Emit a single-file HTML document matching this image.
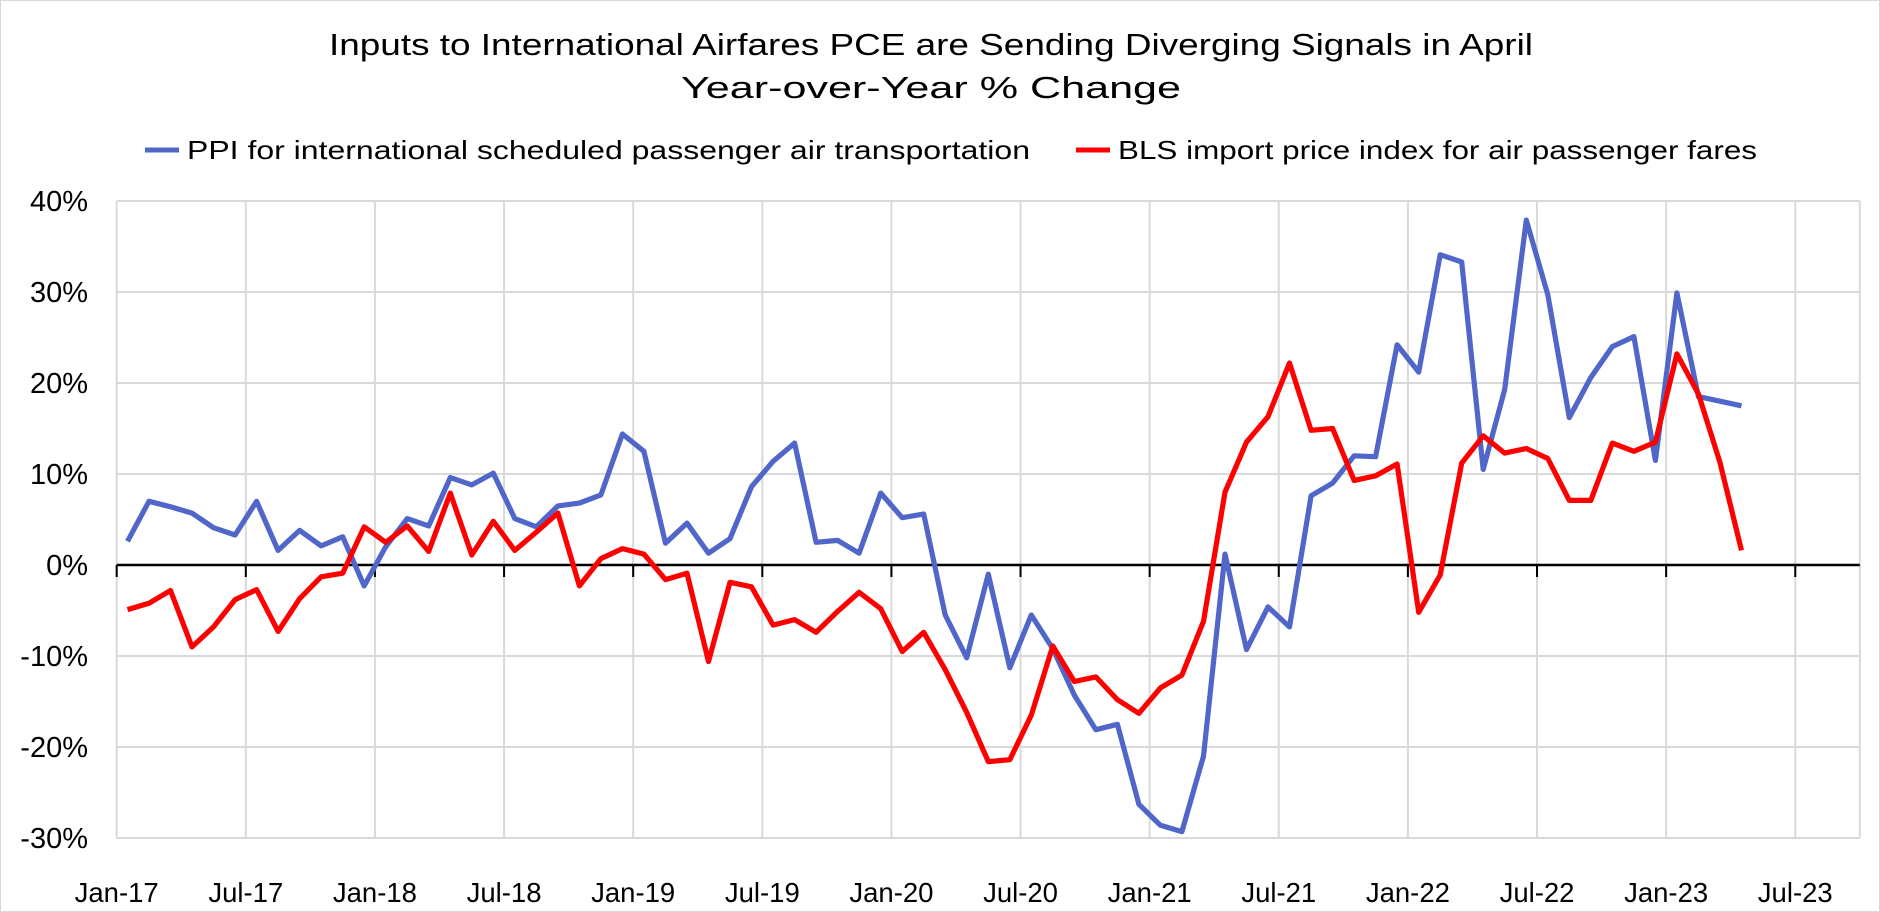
<!DOCTYPE html>
<html><head><meta charset="utf-8"><style>
html,body{margin:0;padding:0;background:#fff}
svg{display:block;font-family:"Liberation Sans",sans-serif}
</style></head><body>
<svg id="chart" width="1880" height="912" viewBox="0 0 1880 912" xmlns="http://www.w3.org/2000/svg">
<rect x="0.5" y="0.5" width="1879" height="911" fill="#fff" stroke="#d9d9d9"/>
<text x="931" y="55" font-size="31" text-anchor="middle" textLength="1204" lengthAdjust="spacingAndGlyphs" fill="#000">Inputs to International Airfares PCE are Sending Diverging Signals in April</text>
<text x="931" y="98" font-size="31" text-anchor="middle" textLength="500" lengthAdjust="spacingAndGlyphs" fill="#000">Year-over-Year % Change</text>
<g>
<g>
<line x1="145" y1="150" x2="179" y2="150" stroke="#5066c8" stroke-width="5"/>
<text x="187" y="159" font-size="26" textLength="843" lengthAdjust="spacingAndGlyphs">PPI for international scheduled passenger air transportation</text>
</g>
<g>
<line x1="1076" y1="150" x2="1110" y2="150" stroke="#ff0000" stroke-width="5"/>
<text x="1118" y="159" font-size="26" textLength="639" lengthAdjust="spacingAndGlyphs">BLS import price index for air passenger fares</text>
</g>
</g>
<g id="grid"></g>
<g id="axes"></g>
<g id="series"></g>
</svg>
<script>
const xTickLabels = ["Jan-17","Jul-17","Jan-18","Jul-18","Jan-19","Jul-19","Jan-20","Jul-20","Jan-21","Jul-21","Jan-22","Jul-22","Jan-23","Jul-23"];
const yTicks = [40,30,20,10,0,-10,-20,-30];
const ppiValues = [2.6,7.0,6.4,5.7,4.1,3.3,7.0,1.6,3.8,2.1,3.1,-2.3,2.0,5.1,4.3,9.6,8.8,10.1,5.1,4.2,6.5,6.8,7.7,14.4,12.5,2.4,4.6,1.3,2.9,8.6,11.4,13.4,2.5,2.7,1.3,7.9,5.2,5.6,-5.5,-10.2,-1.0,-11.3,-5.5,-9.2,-14.3,-18.1,-17.5,-26.3,-28.6,-29.3,-21.0,1.2,-9.3,-4.6,-6.8,7.6,9.0,12.0,11.9,24.2,21.2,34.1,33.3,10.5,19.3,37.9,29.7,16.2,20.6,24.0,25.1,11.5,29.9,18.5,18.0,17.5];
const blsValues = [-4.9,-4.2,-2.8,-9.0,-6.8,-3.8,-2.7,-7.3,-3.7,-1.3,-0.9,4.2,2.5,4.3,1.5,7.9,1.1,4.8,1.6,3.6,5.7,-2.3,0.7,1.8,1.2,-1.6,-0.9,-10.6,-1.9,-2.4,-6.6,-6.0,-7.4,-5.1,-3.0,-4.8,-9.5,-7.4,-11.5,-16.2,-21.6,-21.4,-16.5,-8.9,-12.8,-12.3,-14.8,-16.3,-13.5,-12.1,-6.2,8.0,13.5,16.3,22.2,14.8,15.0,9.3,9.8,11.1,-5.2,-1.1,11.2,14.2,12.3,12.8,11.7,7.1,7.1,13.4,12.5,13.5,23.2,18.8,11.3,1.6];
const NS="http://www.w3.org/2000/svg";
const x0=116.7, monthW=21.52, nCat=81;
const yZero=565, pxPer=9.1;
function xCat(i){return x0+monthW*(i+0.5);}
function xEdge(i){return x0+monthW*i;}
function yVal(v){return yZero-v*pxPer;}
function mk(tag,attrs,parent){const e=document.createElementNS(NS,tag);for(const k in attrs)e.setAttribute(k,attrs[k]);parent.appendChild(e);return e;}
const grid=document.getElementById('grid'), axes=document.getElementById('axes'), series=document.getElementById('series');
const xRight=xEdge(nCat);
yTicks.forEach(t=>{
  const l=mk('line',{x1:x0,x2:xRight,y1:yVal(t),y2:yVal(t),stroke:'#d9d9d9','stroke-width':2},grid);
  
  
  const tx=mk('text',{x:88,y:yVal(t)+10,'font-size':29,'text-anchor':'end',fill:'#000'},axes);
  tx.textContent=t+'%';
  
  
});
xTickLabels.forEach((lab,k)=>{
  const x=xEdge(k*6);
  const g=mk('line',{x1:x,x2:x,y1:yVal(40),y2:yVal(-30),stroke:'#d9d9d9','stroke-width':2},grid);
  
  
  const tk=mk('line',{x1:x,x2:x,y1:yZero,y2:yZero+12,stroke:'#000','stroke-width':2},axes);
  
  
  const tx=mk('text',{x:x,y:902,'font-size':27.5,'text-anchor':'middle',fill:'#000'},axes);
  tx.textContent=lab;
  
  
});
const rb=mk('line',{x1:xRight,x2:xRight,y1:yVal(40),y2:yVal(-30),stroke:'#d9d9d9','stroke-width':2},grid);


const ax=mk('line',{x1:x0,x2:xRight,y1:yZero,y2:yZero,stroke:'#000','stroke-width':2.5},axes);


function drawLine(vals,color,name){
  const pts=vals.map((v,i)=>xCat(i).toFixed(1)+','+yVal(v).toFixed(1)).join(' ');
  const p=mk('polyline',{points:pts,fill:'none',stroke:color,'stroke-width':5.2,'stroke-linejoin':'round'},series);
  
  
}
drawLine(ppiValues,'#5066c8','ppi-line');
drawLine(blsValues,'#ff0000','bls-line');
</script>
</body></html>
